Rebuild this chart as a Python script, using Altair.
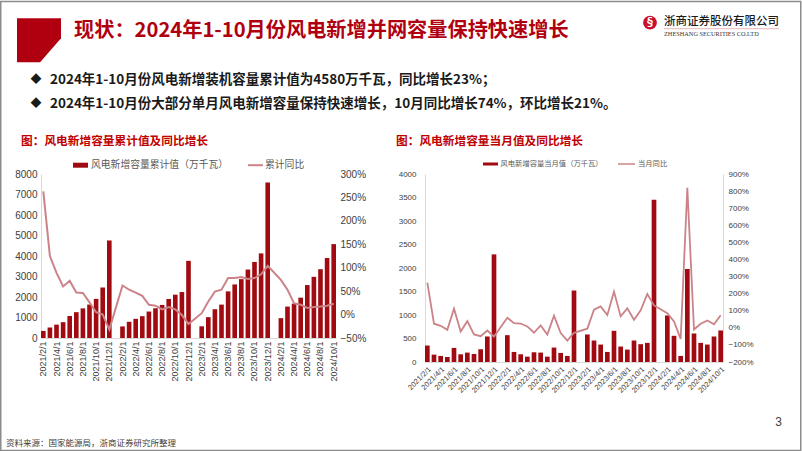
import altair as alt
import pandas as pd

# ---------------- data ----------------
months = [
    "2021/2/1", "2021/3/1", "2021/4/1", "2021/5/1", "2021/6/1", "2021/7/1", "2021/8/1", "2021/9/1",
    "2021/10/1", "2021/11/1", "2021/12/1",
    "2022/1/1", "2022/2/1", "2022/3/1", "2022/4/1", "2022/5/1", "2022/6/1", "2022/7/1", "2022/8/1",
    "2022/9/1", "2022/10/1", "2022/11/1", "2022/12/1",
    "2023/1/1", "2023/2/1", "2023/3/1", "2023/4/1", "2023/5/1", "2023/6/1", "2023/7/1", "2023/8/1",
    "2023/9/1", "2023/10/1", "2023/11/1", "2023/12/1",
    "2024/1/1", "2024/2/1", "2024/3/1", "2024/4/1", "2024/5/1", "2024/6/1", "2024/7/1", "2024/8/1",
    "2024/9/1", "2024/10/1",
]
label_months = [
    "2021/2/1", "2021/4/1", "2021/6/1", "2021/8/1", "2021/10/1", "2021/12/1",
    "2022/2/1", "2022/4/1", "2022/6/1", "2022/8/1", "2022/10/1", "2022/12/1",
    "2023/2/1", "2023/4/1", "2023/6/1", "2023/8/1", "2023/10/1", "2023/12/1",
    "2024/2/1", "2024/4/1", "2024/6/1", "2024/8/1", "2024/10/1",
]
# 风电新增容量累计值（万千瓦）
cum_values = [
    345, 512, 652, 772, 1072, 1260, 1445, 1633, 1908, 2460, 4757,
    None, 565, 790, 935, 1065, 1290, 1452, 1613, 1903, 2113, 2242, 3763,
    None, 570, 1016, 1403, 1629, 2274, 2613, 2871, 3339, 3710, 4127, 7590,
    None, 968, 1532, 1677, 1968, 2581, 2984, 3355, 3903, 4580,
]
# 累计同比
cum_yoy = [
    2.63, 1.25, 0.89, 0.60, 0.72, 0.47, 0.46, 0.26, 0.05, 0.00, -0.32,
    None, 0.62, 0.53, 0.47, 0.40, 0.21, 0.19, 0.11, 0.16, 0.11, -0.01, -0.20,
    None, 0.03, 0.28, 0.49, 0.53, 0.78, 0.78, 0.80, 0.76, 0.78, 0.86, 1.04,
    None, 0.74, 0.53, 0.24, 0.21, 0.14, 0.16, 0.17, 0.19, 0.23,
]
# 风电新增容量当月值（万千瓦）
mon_values = [
    350, 157, 129, 107, 300, 164, 200, 171, 271, 543, 2290,
    None, 571, 214, 164, 114, 207, 200, 114, 307, 193, 129, 1521,
    None, 586, 457, 371, 214, 664, 329, 264, 457, 379, 407, 3450,
    None, 990, 557, 129, 1979, 607, 407, 371, 543, 671,
]
# 当月同比
mon_yoy = [
    2.65, 0.24, 0.12, -0.12, 1.12, -0.22, 0.39, -0.39, -0.49, -0.16, -0.51,
    None, 0.59, 0.27, 0.25, 0.08, -0.29, 0.14, -0.39, 0.71, -0.31, -0.75, -0.29,
    None, -0.05, 1.06, 1.25, 0.75, 2.12, 0.67, 1.14, 0.47, 1.02, 1.98, 1.31,
    None, 0.86, 0.37, -0.65, 8.19, -0.10, 0.24, 0.43, 0.20, 0.74,
]
left_ticks = [0, 1000, 2000, 3000, 4000, 5000, 6000, 7000, 8000]
left_pct_ticks = [-0.5, 0.0, 0.5, 1.0, 1.5, 2.0, 2.5, 3.0]
right_ticks = [0, 500, 1000, 1500, 2000, 2500, 3000, 3500, 4000]
right_pct_ticks = [-2, -1, 0, 1, 2, 3, 4, 5, 6, 7, 8, 9]

df = pd.DataFrame({"month": months, "cum": cum_values, "cum_yoy": cum_yoy,
                   "mon": mon_values, "mon_yoy": mon_yoy})

# ---------------- style ----------------
BAR = "#A00A10"
LINE = "#CB8388"
RED = "#B0000F"
TXT = "#404040"
NUM_FONT = "Liberation Sans"
CJK = "Noto Sans CJK SC"

LX0, LY0 = 41.0, 173.3     # left plot origin (absolute)
RX0, RY0 = 425.0, 173.3    # right plot origin (absolute)


def text_layer(text, x, y, size, color, ox, oy, weight="normal", font=CJK, align="left"):
    return alt.Chart(alt.Data(values=[{"t": text}])).mark_text(
        align=align, baseline="middle", fontSize=size, color=color, font=font, fontWeight=weight
    ).encode(x=alt.value(x - ox), y=alt.value(y - oy), text="t:N")


def rect_layer(x1, y1, x2, y2, color, ox, oy):
    return alt.Chart(alt.Data(values=[{"a": 0}])).mark_rect(color=color).encode(
        x=alt.value(x1 - ox), x2=alt.value(x2 - ox), y=alt.value(y1 - oy), y2=alt.value(y2 - oy))


def hline_layer(x1, x2, y, color, width, ox, oy):
    return alt.Chart(alt.Data(values=[{"a": 0}])).mark_rule(color=color, strokeWidth=width).encode(
        x=alt.value(x1 - ox), x2=alt.value(x2 - ox), y=alt.value(y - oy))


def x_enc(angle, size):
    return alt.X("month:N", scale=alt.Scale(domain=months, paddingInner=0.3, paddingOuter=0.0),
                 axis=alt.Axis(values=label_months, labelAngle=angle, labelFontSize=size,
                               labelFont=NUM_FONT, labelColor=TXT, domainColor="#d9d9d9",
                               ticks=False, title=None, labelPadding=3, labelOverlap=False))


# ---------------- left chart ----------------
l_bars = alt.Chart(df).transform_filter("isValid(datum.cum)").mark_bar(color=BAR).encode(
    x=x_enc(270, 9),
    y=alt.Y("cum:Q", scale=alt.Scale(domain=[0, 8000], nice=False),
            axis=alt.Axis(values=left_ticks, format="d", title=None, ticks=False, grid=False,
                          domainColor="#d9d9d9", labelFont=NUM_FONT, labelFontSize=10,
                          labelColor=TXT, labelPadding=4)),
)
l_line = alt.Chart(df).transform_filter("isValid(datum.cum_yoy)").mark_line(
    color=LINE, strokeWidth=2).encode(
    x=x_enc(270, 9),
    y=alt.Y("cum_yoy:Q", scale=alt.Scale(domain=[-0.5, 3.0], nice=False),
            axis=alt.Axis(orient="right", values=left_pct_ticks, format=".0%", title=None, ticks=False,
                          grid=False, domain=False, labelFont=NUM_FONT, labelFontSize=10,
                          labelColor=TXT, labelPadding=4)),
)

ox, oy = LX0, LY0
# slide frame
frame = alt.Chart(alt.Data(values=[{"a": 0}])).mark_rect(
    fill="#ffffff", fillOpacity=0, stroke="#8c8c8c", strokeWidth=1.5).encode(
    x=alt.value(0.75 - ox), x2=alt.value(800.75 - ox), y=alt.value(0.75 - oy), y2=alt.value(449.75 - oy))
# header red block with cut corner
block = alt.Chart(alt.Data(values=[{"a": 0}])).mark_point(
    shape="M-1,-1L1,-1L1,-0.09L0.05,1L-1,1Z", filled=True, fill=RED, opacity=1, strokeWidth=0,
    size=44 * 44).encode(x=alt.value(39 - ox), y=alt.value(39.5 - oy))
logo_circle = alt.Chart(alt.Data(values=[{"a": 0}])).mark_point(
    shape="circle", filled=True, fill="#C8102E", opacity=1, strokeWidth=0, size=190).encode(
    x=alt.value(650 - ox), y=alt.value(22 - oy))

decor_left = [
    frame, block, logo_circle,
    text_layer("§", 650, 22.5, 11, "#ffffff", ox, oy, weight="bold", align="center"),
    text_layer("现状：2024年1-10月份风电新增并网容量保持快速增长", 74, 30, 20.2, RED, ox, oy, weight="bold"),
    text_layer("浙商证券股份有限公司", 664, 21, 11.5, "#1a1a1a", ox, oy, weight=500),
    hline_layer(664, 779, 28, "#E6A3A3", 0.8, ox, oy),
    text_layer("ZHESHANG SECURITIES CO.LTD", 664, 33.5, 6.3, "#333333", ox, oy, font="Liberation Serif"),
    text_layer("◆", 36, 79.5, 11, "#1a1a1a", ox, oy, align="center"),
    text_layer("2024年1-10月份风电新增装机容量累计值为4580万千瓦，同比增长23%；", 50, 79.5, 13.5, "#1a1a1a", ox, oy, weight="bold"),
    text_layer("◆", 36, 103, 11, "#1a1a1a", ox, oy, align="center"),
    text_layer("2024年1-10月份大部分单月风电新增容量保持快速增长，10月同比增长74%，环比增长21%。", 50, 103, 13.5, "#1a1a1a", ox, oy, weight="bold"),
    text_layer("图：风电新增容量累计值及同比增长", 21, 140, 11.7, "#C00000", ox, oy, weight="bold"),
    rect_layer(73, 162, 88, 167, BAR, ox, oy),
    text_layer("风电新增容量累计值（万千瓦）", 91, 164.5, 9.8, "#595959", ox, oy),
    hline_layer(248, 263, 164.5, LINE, 2, ox, oy),
    text_layer("累计同比", 265, 164.5, 9.8, "#595959", ox, oy),
    text_layer("资料来源：国家能源局，浙商证券研究所整理", 6, 442.5, 8.5, TXT, ox, oy),
    text_layer("3", 778.5, 421, 12, TXT, ox, oy, font=NUM_FONT, align="center"),
]

left = alt.layer(l_bars, l_line, *decor_left).resolve_scale(y="independent").properties(
    width=295, height=164)

# ---------------- right chart ----------------
r_bars = alt.Chart(df).transform_filter("isValid(datum.mon)").mark_bar(color=BAR).encode(
    x=x_enc(315, 7.5),
    y=alt.Y("mon:Q", scale=alt.Scale(domain=[0, 4000], nice=False),
            axis=alt.Axis(values=right_ticks, format="d", title=None, ticks=False, grid=False,
                          domainColor="#d9d9d9", labelFont=NUM_FONT, labelFontSize=8,
                          labelColor=TXT, labelPadding=9)),
)
r_line = alt.Chart(df).transform_filter("isValid(datum.mon_yoy)").mark_line(
    color=LINE, strokeWidth=1.8).encode(
    x=x_enc(315, 7.5),
    y=alt.Y("mon_yoy:Q", scale=alt.Scale(domain=[-2, 9], nice=False),
            axis=alt.Axis(orient="right", values=right_pct_ticks, format=".0%", title=None, ticks=False,
                          grid=False, domainColor="#d9d9d9", labelFont=NUM_FONT, labelFontSize=8,
                          labelColor=TXT, labelPadding=5)),
)

ox, oy = RX0, RY0
decor_right = [
    text_layer("图：风电新增容量当月值及同比增长", 396, 140, 11.7, "#C00000", ox, oy, weight="bold"),
    rect_layer(483, 161.8, 498, 164.8, BAR, ox, oy),
    text_layer("风电新增容量当月值（万千瓦）", 500.5, 163.3, 7.3, "#595959", ox, oy),
    hline_layer(618, 635, 163.3, LINE, 1.5, ox, oy),
    text_layer("当月同比", 638, 163.3, 7.3, "#595959", ox, oy),
]

right = alt.layer(r_bars, r_line, *decor_right).resolve_scale(y="independent").properties(
    width=298, height=188)

chart = alt.hconcat(left, right, spacing=89, bounds="flush").configure_view(stroke=None).properties(
    padding=0, background="#ffffff")

chart.save("out.html", embed_options={"renderer": "svg", "actions": False})
